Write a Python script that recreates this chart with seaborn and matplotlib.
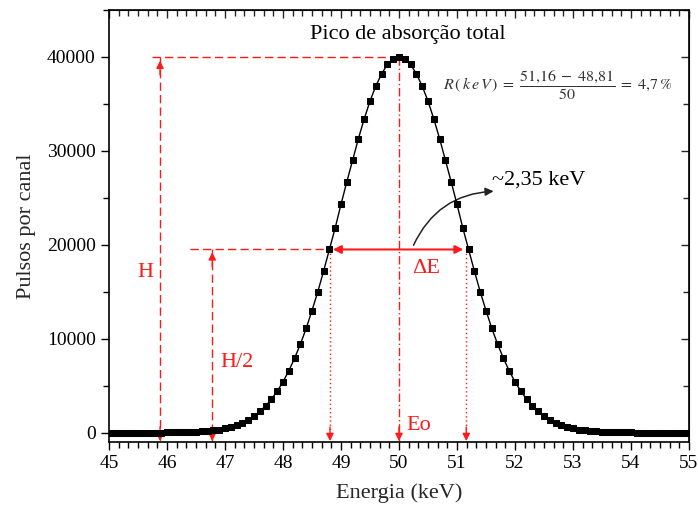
import numpy as np
import pandas as pd
import matplotlib
matplotlib.use("Agg")
import matplotlib.pyplot as plt
from matplotlib.ticker import MultipleLocator, AutoMinorLocator
import seaborn as sns

# ---- data ----
energy_left = [45.0, 45.1, 45.2, 45.3, 45.4, 45.5, 45.6, 45.7, 45.8, 45.9,
               46.0, 46.1, 46.2, 46.3, 46.4, 46.5, 46.6, 46.7, 46.8, 46.9,
               47.0, 47.1, 47.2, 47.3, 47.4, 47.5, 47.6, 47.7, 47.8, 47.9,
               48.0, 48.1, 48.2, 48.3, 48.4, 48.5, 48.6, 48.7, 48.8, 48.9,
               49.0, 49.1, 49.2, 49.3, 49.4, 49.5, 49.6, 49.7, 49.8, 49.9, 50.0]
counts_left = [0, 0, 0, 0, 1, 2, 3, 4, 6, 10,
               13, 20, 30, 43, 60, 90, 120, 170, 240, 330,
               440, 600, 800, 1050, 1360, 1760, 2250, 2840, 3560, 4410,
               5410, 6580, 7920, 9430, 11100, 13000, 15000, 17200, 19500, 21800,
               24300, 26700, 29000, 31300, 33400, 35300, 36900, 38200, 39200, 39800, 40000]
energy_right = [50.1, 50.2, 50.3, 50.4, 50.5, 50.6, 50.7, 50.8, 50.9, 51.0,
                51.1, 51.2, 51.3, 51.4, 51.5, 51.6, 51.7, 51.8, 51.9, 52.0,
                52.1, 52.2, 52.3, 52.4, 52.5, 52.6, 52.7, 52.8, 52.9, 53.0,
                53.1, 53.2, 53.3, 53.4, 53.5, 53.6, 53.7, 53.8, 53.9, 54.0,
                54.1, 54.2, 54.3, 54.4, 54.5, 54.6, 54.7, 54.8, 54.9, 55.0]
counts_right = [39800, 39200, 38200, 36900, 35300, 33400, 31300, 29000, 26700, 24300,
                21800, 19500, 17200, 15000, 13000, 11100, 9430, 7920, 6580, 5410,
                4410, 3560, 2840, 2250, 1760, 1360, 1050, 800, 600, 440,
                330, 240, 170, 120, 90, 60, 43, 30, 20, 13,
                10, 6, 4, 3, 2, 1, 0, 0, 0, 0]

peak_E = 50.0
peak_H = 40000
half_H = 19500
E_low = 48.81
E_high = 51.16
x_H = 45.88
x_H2 = 46.78

title_text = "Pico de absorção total"
xlabel_text = "Energia (keV)"
ylabel_text = "Pulsos por canal"
formula_text = r"$R\,(\,k\,e\,V\,)\;=\;\dfrac{51{,}16\;-\;48{,}81}{50}\;=\;4{,}7\,\%$"
width_text = "~2,35 keV"

df = pd.DataFrame({"Energia": energy_left + energy_right,
                   "Pulsos": counts_left + counts_right})

# ---- style ----
sns.set_style("ticks")
plt.rcParams["font.family"] = "serif"
plt.rcParams["font.serif"] = ["Liberation Serif", "Times New Roman", "DejaVu Serif"]
plt.rcParams["mathtext.fontset"] = "stix"

fig = plt.figure(figsize=(6.98, 5.13), dpi=100)
ax = fig.add_axes([109 / 698, 1 - 442 / 513, (689 - 109) / 698, (442 - 10) / 513])

sns.lineplot(data=df, x="Energia", y="Pulsos", ax=ax, color="black", lw=1.0,
             marker="s", markersize=4.0, markeredgecolor="black",
             markerfacecolor="black", zorder=5)

ax.set_xlim(45, 55)
ax.set_ylim(-1000, 45000)
ax.xaxis.set_major_locator(MultipleLocator(1))
ax.xaxis.set_minor_locator(AutoMinorLocator(6))
ax.yaxis.set_major_locator(MultipleLocator(10000))
ax.yaxis.set_minor_locator(AutoMinorLocator(2))
ax.tick_params(which="both", direction="out", colors="black", labelsize=14,
               top=False, right=False, width=1.0)
ax.tick_params(which="major", length=6)
ax.tick_params(which="minor", length=4)
for s in ax.spines.values():
    s.set_color("black")
    s.set_linewidth(1.2)

# inward ticks on top and right
axt = ax.secondary_xaxis("top")
axt.xaxis.set_major_locator(MultipleLocator(1))
axt.xaxis.set_minor_locator(AutoMinorLocator(6))
axt.tick_params(which="both", direction="in", labeltop=False, width=1.0)
axt.tick_params(which="major", length=6)
axt.tick_params(which="minor", length=4)
axr = ax.secondary_yaxis("right")
axr.yaxis.set_major_locator(MultipleLocator(10000))
axr.yaxis.set_minor_locator(AutoMinorLocator(2))
axr.tick_params(which="both", direction="in", labelright=False, width=1.0)
axr.tick_params(which="major", length=6)
axr.tick_params(which="minor", length=4)

ax.set_xlabel(xlabel_text, fontsize=16, labelpad=8)
ax.set_ylabel(ylabel_text, fontsize=16, labelpad=8)

red = "#ff1a1a"
ybot = -900

# horizontal dashed guides
ax.plot([45.74, peak_E], [peak_H, peak_H], ls=(0, (6, 3)), color=red, lw=1)
ax.plot([46.4, E_low], [half_H, half_H], ls=(0, (6, 3)), color=red, lw=1)

# vertical H lines
ax.plot([x_H, x_H], [peak_H, ybot], ls=(0, (6, 3)), color=red, lw=1)
ax.plot([x_H2, x_H2], [half_H, ybot], ls=(0, (6, 3)), color=red, lw=1)
# vertical guides from FWHM points and peak
ax.plot([E_low, E_low], [half_H, ybot], ls=(0, (1, 2)), color=red, lw=1)
ax.plot([E_high, E_high], [half_H, ybot], ls=(0, (1, 2)), color=red, lw=1)
ax.plot([peak_E, peak_E], [peak_H, ybot], ls=(0, (6, 2, 1, 2)), color=red, lw=1)

head = dict(arrowstyle="-|>", color=red, lw=1, mutation_scale=11, shrinkA=0, shrinkB=0)
for xv in [x_H, x_H2, E_low, E_high, peak_E]:
    ax.annotate("", xy=(xv, ybot), xytext=(xv, ybot + 1500), arrowprops=head)
ax.annotate("", xy=(x_H, peak_H - 400), xytext=(x_H, peak_H - 1900), arrowprops=head)
ax.annotate("", xy=(x_H2, half_H - 300), xytext=(x_H2, half_H - 1800), arrowprops=head)

# delta E double arrow
ax.annotate("", xy=(E_high - 0.05, half_H), xytext=(E_low + 0.05, half_H),
            arrowprops=dict(arrowstyle="<|-|>", color=red, lw=1.5,
                            mutation_scale=12, shrinkA=0, shrinkB=0))

# labels
ax.text(45.62, 17000, "H", color=red, fontsize=16, ha="center", va="center")
ax.text(47.21, 7500, "H/2", color=red, fontsize=16, ha="center", va="center")
ax.text(50.46, 17500, "ΔE", color=red, fontsize=16, ha="center", va="center")
ax.text(50.34, 800, "Eo", color=red, fontsize=16, ha="center", va="center")

ax.text(50.15, 42400, title_text, fontsize=16, ha="center", va="center", color="black")
ax.text(52.74, 37000, formula_text, fontsize=11.5, ha="center", va="center", color="#333333")

# curved arrow and width label
ax.annotate("", xy=(51.63, 25700), xytext=(50.25, 19950),
            arrowprops=dict(arrowstyle="-|>", color="#222222", lw=1.1,
                            mutation_scale=12, connectionstyle="arc3,rad=-0.3",
                            shrinkA=0, shrinkB=0))
ax.text(51.6, 26900, width_text, fontsize=16, ha="left", va="center", color="black")

fig.savefig("out.png", dpi=100)
